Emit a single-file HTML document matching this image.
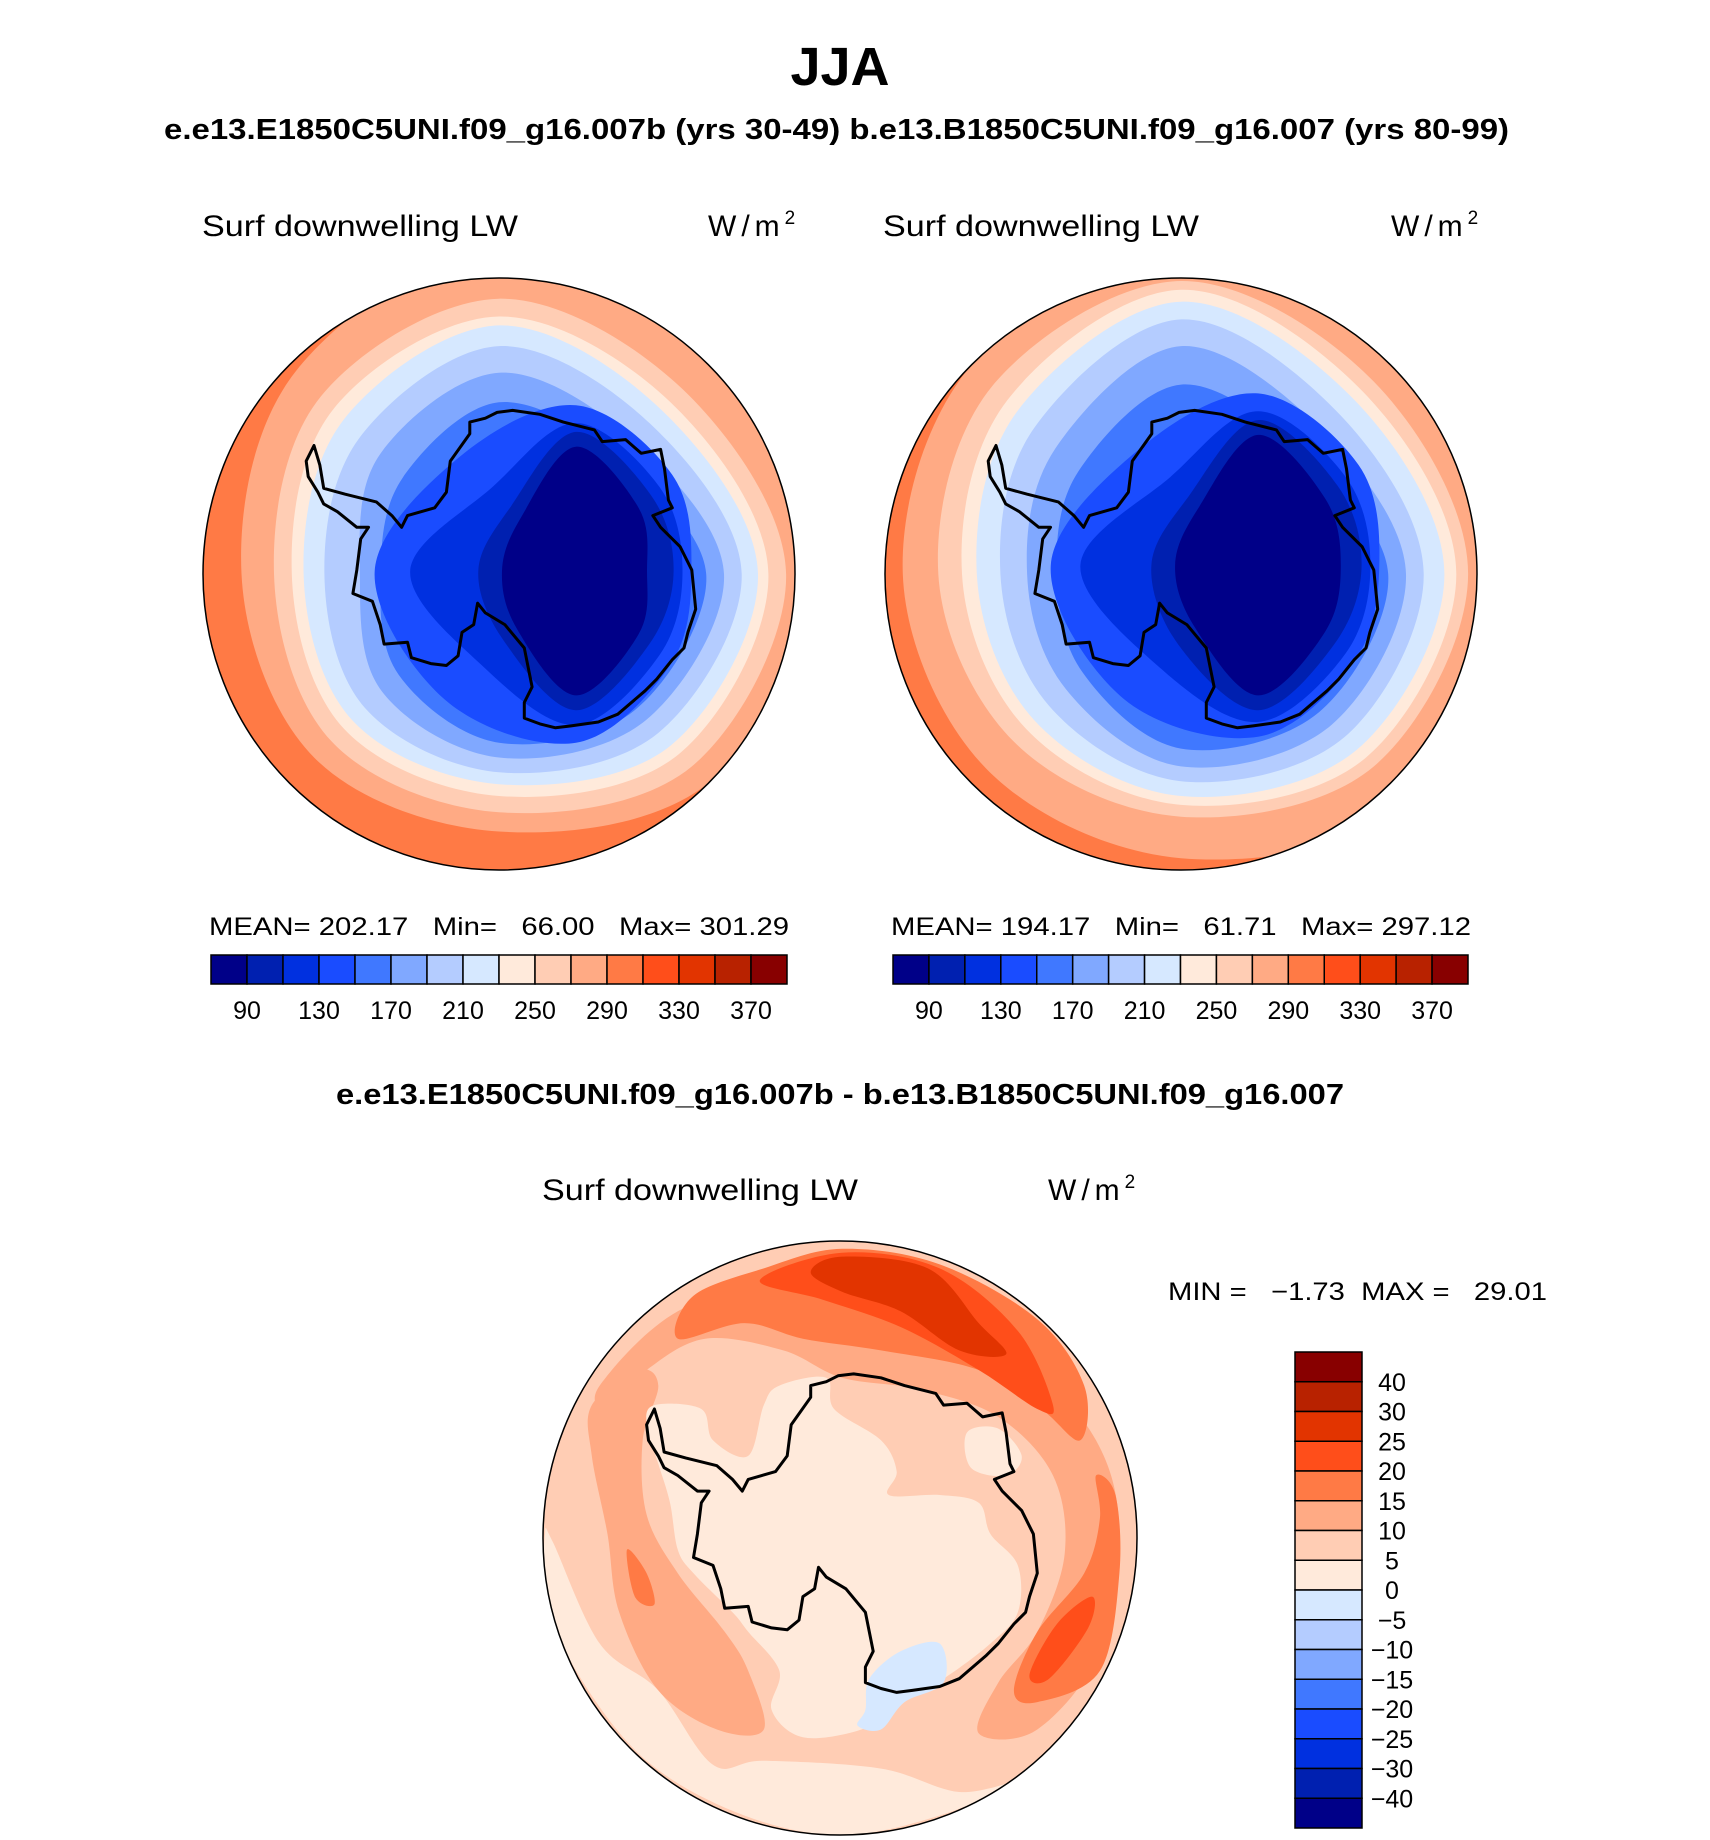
<!DOCTYPE html>
<html><head><meta charset="utf-8"><style>
html,body{margin:0;padding:0;background:#fff}
svg{display:block}
text{font-family:"Liberation Sans",sans-serif;fill:#000}
</style></head><body>
<svg id="fig" width="1710" height="1840" viewBox="0 0 1710 1840" xmlns="http://www.w3.org/2000/svg">
<text x="840" y="85" font-size="54" font-weight="bold" text-anchor="middle">JJA</text>
<text x="164" y="139" font-size="29" font-weight="bold" textLength="1345" lengthAdjust="spacingAndGlyphs">e.e13.E1850C5UNI.f09_g16.007b (yrs 30-49)  b.e13.B1850C5UNI.f09_g16.007 (yrs 80-99)</text>
<text x="336" y="1104" font-size="29" font-weight="bold" textLength="1008" lengthAdjust="spacingAndGlyphs">e.e13.E1850C5UNI.f09_g16.007b - b.e13.B1850C5UNI.f09_g16.007</text>

<text x="202" y="236" font-size="30" textLength="316" lengthAdjust="spacingAndGlyphs">Surf downwelling LW</text>
<text x="708" y="236" font-size="30" letter-spacing="5">W/m<tspan font-size="19" dy="-12">2</tspan></text>
<text x="883" y="236" font-size="30" textLength="316" lengthAdjust="spacingAndGlyphs">Surf downwelling LW</text>
<text x="1391" y="236" font-size="30" letter-spacing="5">W/m<tspan font-size="19" dy="-12">2</tspan></text>
<text x="542" y="1200" font-size="30" textLength="316" lengthAdjust="spacingAndGlyphs">Surf downwelling LW</text>
<text x="1048" y="1200" font-size="30" letter-spacing="5">W/m<tspan font-size="19" dy="-12">2</tspan></text>

<text x="209" y="935" font-size="25" textLength="580" lengthAdjust="spacingAndGlyphs" xml:space="preserve">MEAN= 202.17   Min=   66.00   Max= 301.29</text>
<text x="891" y="935" font-size="25" textLength="580" lengthAdjust="spacingAndGlyphs" xml:space="preserve">MEAN= 194.17   Min=   61.71   Max= 297.12</text>
<text x="1168" y="1300" font-size="25" textLength="379" lengthAdjust="spacingAndGlyphs" xml:space="preserve">MIN =   −1.73  MAX =   29.01</text>
<g id="maps"></g>
</svg>
<script>
const palette = ["#000088","#0020b0","#0030e0","#1a4cff","#4078ff","#80a8ff","#b4ccff","#d6e8ff","#ffeadb","#ffcdb4","#ffaa84","#ff7a45","#ff4e1a","#e23400","#b82200","#880000"];
const hLabels = ["90","130","170","210","250","290","330","370"];
const vLabels = ["40","30","25","20","15","10","5","0","−5","−10","−15","−20","−25","−30","−40"];

const leftColors = [10,9,8,7,6,5,4,3,2,1,0];
const leftCenters = [[0,0],[0,0],[0,0],[0,0],[0,0],[0,0],[0,0],[0.26,-0.01],[0.26,-0.01],[0.26,-0.01],[0.26,-0.01]];
const leftRadii = [
 [1.1,1.0,0.87,0.88,0.87,0.97,1.1,1.1],
 [0.97,0.92,0.805,0.80,0.76,0.85,0.93,0.88],
 [0.91,0.86,0.75,0.74,0.70,0.79,0.87,0.82],
 [0.875,0.82,0.71,0.70,0.66,0.74,0.84,0.78],
 [0.82,0.76,0.67,0.64,0.59,0.66,0.77,0.72],
 [0.76,0.70,0.62,0.56,0.47,0.57,0.68,0.64],
 [0.70,0.65,0.57,0.48,0.40,0.46,0.58,0.56],
 [0.39,0.45,0.58,0.62,0.68,0.55,0.56,0.46],
 [0.36,0.40,0.52,0.45,0.56,0.40,0.50,0.40],
 [0.33,0.35,0.47,0.34,0.33,0.31,0.47,0.36],
 [0.24,0.30,0.42,0.28,0.25,0.26,0.42,0.30]];
const rightColors = [10,9,8,7,6,5,4,3,2,1,0];
const rightCenters = [[0,0],[0,0],[0,0],[0,0],[0,0],[0,0],[0,0],[0.26,-0.03],[0.26,-0.03],[0.26,-0.03],[0.26,-0.03]];
const rightRadii = [
 [1.1,1.1,0.96,0.93,0.94,1.0,1.1,1.1],
 [0.97,0.92,0.82,0.80,0.82,0.90,0.99,0.92],
 [0.93,0.88,0.78,0.74,0.74,0.83,0.96,0.87],
 [0.89,0.84,0.75,0.70,0.69,0.78,0.92,0.83],
 [0.82,0.78,0.70,0.63,0.61,0.70,0.86,0.76],
 [0.76,0.72,0.65,0.55,0.52,0.60,0.77,0.68],
 [0.70,0.66,0.59,0.47,0.42,0.49,0.64,0.58],
 [0.41,0.46,0.58,0.64,0.70,0.56,0.58,0.48],
 [0.38,0.42,0.53,0.48,0.60,0.42,0.52,0.42],
 [0.35,0.37,0.49,0.38,0.36,0.33,0.49,0.38],
 [0.28,0.32,0.44,0.30,0.28,0.28,0.44,0.32]];

const diffColors = [8,10,10,11,11,11,12,12,13,8,8,7];
const diffShapes = [
 [[40,800],[45,950],[120,1150],[300,1380],[550,1520],[800,1570],[1050,1520],[1260,1430],[1100,1460],[900,1400],[600,1380],[470,1390],[330,1200],[180,1080],[60,820]],
 [[160,470],[280,380],[330,420],[290,560],[300,750],[380,900],[500,1050],[560,1150],[600,1300],[480,1300],[330,1200],[230,1000],[200,800],[160,600]],
 [[180,420],[380,230],[700,130],[1000,160],[1250,330],[1450,560],[1510,800],[1460,1100],[1300,1300],[1150,1310],[1200,1180],[1300,1050],[1370,850],[1340,650],[1200,500],[1000,430],[800,400],[650,330],[450,300],[300,380],[200,480]],
 [[380,300],[420,190],[600,120],[800,70],[1050,110],[1300,250],[1420,420],[1410,560],[1310,480],[1150,380],[900,330],[700,300],[550,260]],
 [[1450,650],[1500,700],[1510,900],[1460,1150],[1300,1230],[1240,1200],[1300,1050],[1420,900],[1460,760]],
 [[250,840],[300,900],[320,980],[270,960]],
 [[590,150],[800,80],[1050,120],[1250,280],[1340,470],[1300,480],[1150,380],[950,270],[750,200]],
 [[1280,1160],[1350,1030],[1440,960],[1430,1040],[1330,1170]],
 [[720,130],[800,90],[1020,120],[1150,260],[1220,340],[1100,330],[950,230],[800,180]],
 [[320,470],[440,480],[470,560],[560,600],[600,470],[640,420],[760,400],[780,480],[900,560],[940,640],[920,700],[1050,700],[1150,720],[1180,800],[1250,880],[1250,1000],[1180,1080],[1060,1170],[940,1240],[850,1300],[700,1320],[620,1250],[640,1150],[560,1050],[520,1000],[420,900],[380,840],[360,720],[330,620],[300,520]],
 [[1120,540],[1200,530],[1260,600],[1220,650],[1130,630]],
 [[870,1170],[950,1100],[1050,1080],[1060,1180],[960,1230],[900,1300],[840,1290],[860,1250]]];

const coast = [[320,480],[335,530],[345,590],[400,605],[480,625],[520,660],[545,690],[560,660],[630,640],[660,600],[670,520],[720,450],[720,420],[760,410],[790,395],[830,390],[900,400],[960,420],[1040,440],[1060,470],[1120,465],[1160,500],[1210,490],[1220,540],[1230,620],[1240,640],[1190,660],[1210,690],[1260,740],[1290,800],[1300,900],[1280,960],[1270,1000],[1240,1030],[1200,1080],[1170,1110],[1100,1170],[1050,1190],[980,1200],[940,1205],[900,1195],[860,1180],[860,1140],[880,1100],[870,1050],[860,1000],[810,940],[760,910],[740,885],[730,940],[700,960],[690,1020],[660,1045],[620,1040],[570,1025],[560,985],[500,990],[490,940],[470,880],[420,860],[430,800],[440,720],[460,690],[430,690],[380,650],[345,630],[330,600],[305,560],[300,520]];

const NS = "http://www.w3.org/2000/svg";
const root = document.getElementById('maps');
function mk(tag, attrs, parent){const e=document.createElementNS(NS,tag);for(const k in attrs)e.setAttribute(k,attrs[k]);(parent||root).appendChild(e);return e;}
function smooth(pts){
  const n=pts.length;let d=`M${pts[0][0].toFixed(1)},${pts[0][1].toFixed(1)}`;
  for(let i=0;i<n;i++){const p0=pts[(i-1+n)%n],p1=pts[i],p2=pts[(i+1)%n],p3=pts[(i+2)%n];
    d+=` C${(p1[0]+(p2[0]-p0[0])/6).toFixed(1)},${(p1[1]+(p2[1]-p0[1])/6).toFixed(1)} ${(p2[0]-(p3[0]-p1[0])/6).toFixed(1)},${(p2[1]-(p3[1]-p1[1])/6).toFixed(1)} ${p2[0].toFixed(1)},${p2[1].toFixed(1)}`;}
  return d+'Z';
}
function zoomToPx(p,cx,cy,R){return [cx+R*(p[0]-795)/760, cy+R*(p[1]-810)/760];}

function drawMap(id,cx,cy,R,baseColor){
  const g=mk('g',{});
  
  
  const cp=mk('clipPath',{id:id+'-clip'},g);
  mk('circle',{cx:cx,cy:cy,r:R},cp);
  const inner=mk('g',{'clip-path':`url(#${id}-clip)`},g);
  const base=mk('circle',{cx:cx,cy:cy,r:R+2,fill:baseColor},inner);
  
  
  return {g,inner};
}
function drawRadial(inner,cx,cy,R,colors,centers,radii){
  colors.forEach((ci,li)=>{
    const c=centers[li];
    const pts=radii[li].map((r,k)=>{const a=k*Math.PI/4;return [cx+R*(c[0]+r*Math.cos(a)), cy+R*(c[1]+r*Math.sin(a))];});
    const p=mk('path',{d:smooth(pts),fill:palette[ci]},inner);
    
    
  });
}
function drawCoast(g,cx,cy,R){
  const pts=coast.map(p=>zoomToPx(p,cx,cy,R));
  const d='M'+pts.map(p=>p[0].toFixed(1)+','+p[1].toFixed(1)).join(' L')+'Z';
  const c=mk('path',{d:d,fill:'none',stroke:'#000','stroke-width':3,'stroke-linejoin':'round'},g);
  
  
  const o=mk('circle',{cx:cx,cy:cy,r:R,fill:'none',stroke:'#000','stroke-width':1.5},g);
  
  
}
function hBar(x0,x1,y0,y1,name){
  const g=mk('g',{});
  
  
  const w=(x1-x0)/palette.length;
  palette.forEach((col,i)=>{const r=mk('rect',{x:x0+i*w,y:y0,width:w,height:y1-y0,fill:col,stroke:'#000','stroke-width':1.5},g);
    
    });
  hLabels.forEach((t,j)=>{const b=2*j+1;const tx=mk('text',{x:x0+b*w,y:y1+35,'font-size':25,'text-anchor':'middle'},g);tx.textContent=t;
    
    });
}
function vBar(x0,x1,y0,y1){
  const g=mk('g',{});
  
  
  const n=palette.length,h=(y1-y0)/n;
  for(let i=0;i<n;i++){const r=mk('rect',{x:x0,y:y0+i*h,width:x1-x0,height:h,fill:palette[n-1-i],stroke:'#000','stroke-width':1.5},g);
    
    }
  vLabels.forEach((t,j)=>{const tx=mk('text',{x:1392,y:y0+(j+1)*h+9,'font-size':25,'text-anchor':'middle'},g);tx.textContent=t;
    
    });
}

let m=drawMap('left-map',499,574,296,palette[11]);
drawRadial(m.inner,499,574,296,leftColors,leftCenters,leftRadii);
drawCoast(m.g,499,574,296);
m=drawMap('right-map',1181,574,296,palette[11]);
drawRadial(m.inner,1181,574,296,rightColors,rightCenters,rightRadii);
drawCoast(m.g,1181,574,296);
m=drawMap('diff-map',840,1538,297,palette[9]);
diffShapes.forEach((s,i)=>{const p=mk('path',{d:smooth(s.map(q=>zoomToPx(q,840,1538,297))),fill:palette[diffColors[i]]},m.inner);
  
  });
drawCoast(m.g,840,1538,297);

hBar(211,787,955,984,'left-colorbar');
hBar(893,1468,955,984,'right-colorbar');
vBar(1295,1362,1352,1828);
</script>
</body></html>
